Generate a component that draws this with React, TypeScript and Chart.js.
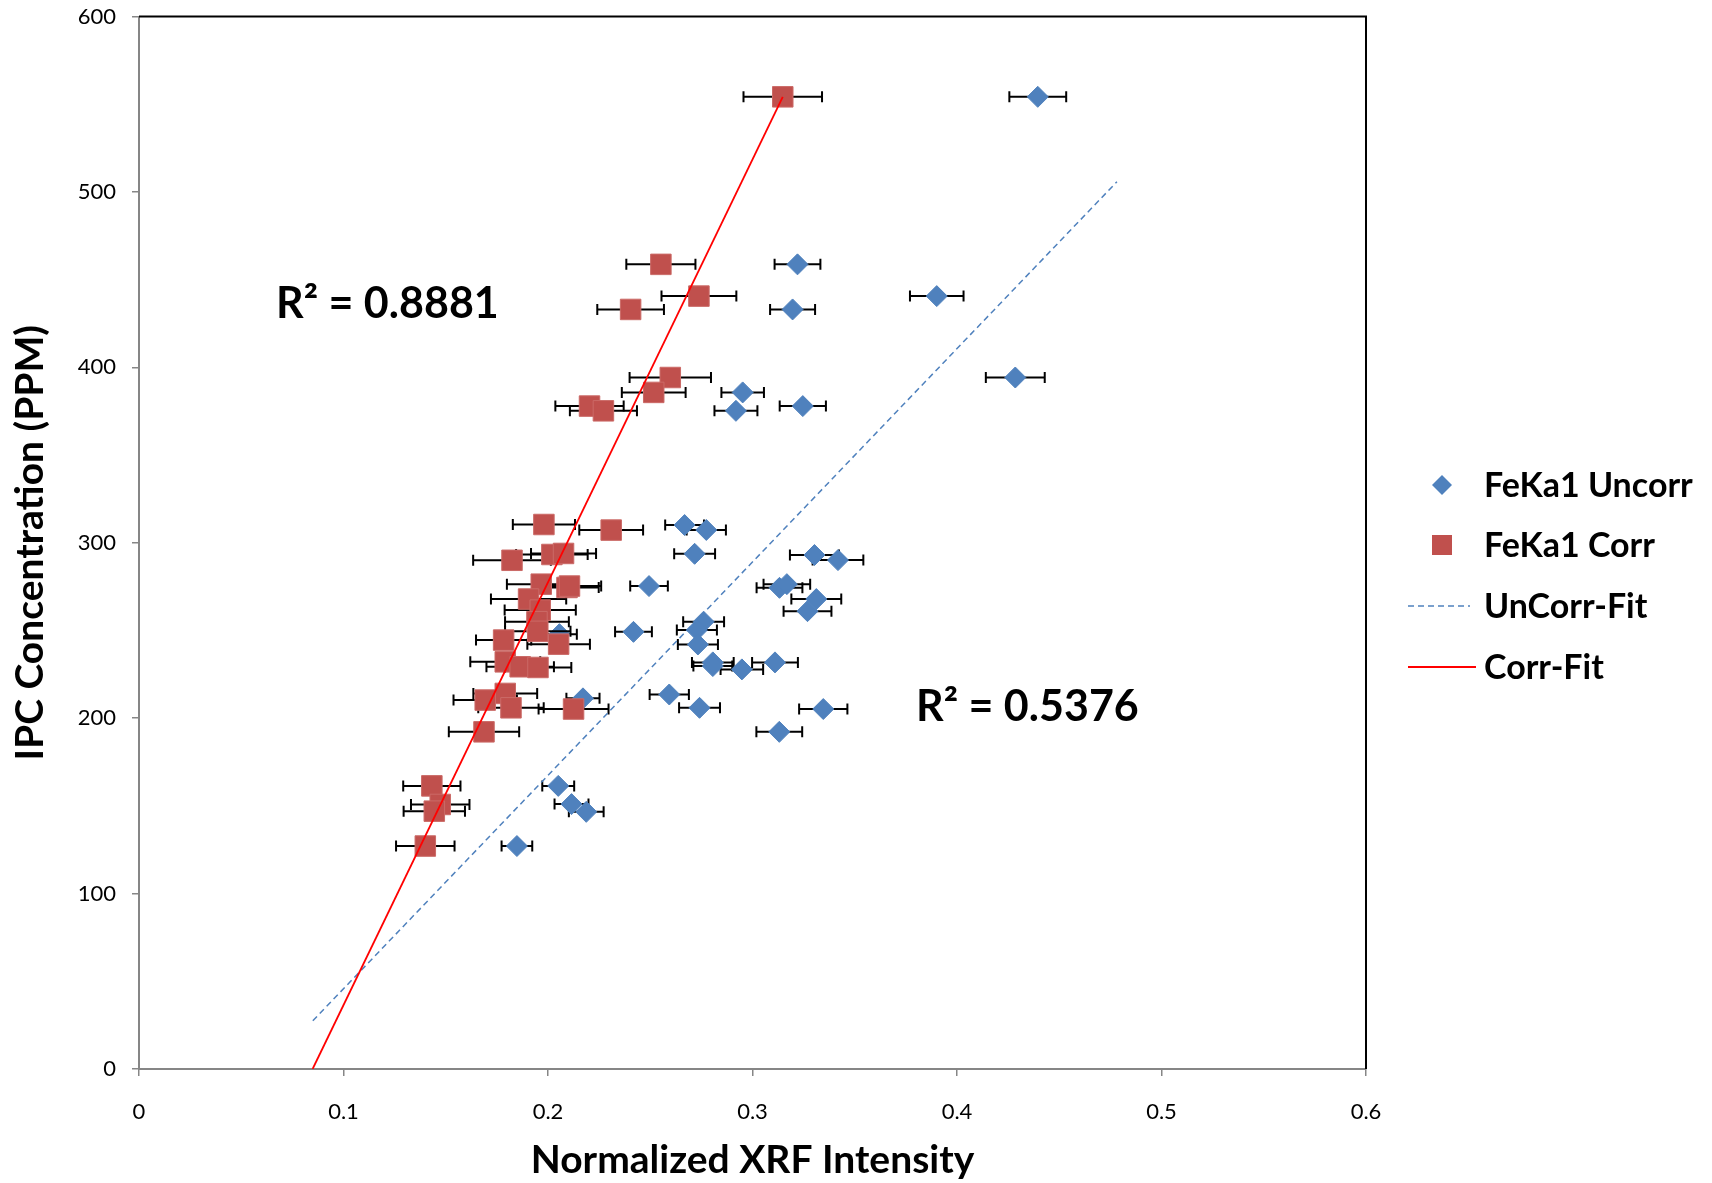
import React, { useEffect, useRef } from "react";
import { Chart, registerables } from "chart.js";

Chart.register(...registerables);

// ---- Data ----
const uncorrX = [0.4395, 0.322, 0.3901, 0.3196, 0.4285, 0.2952, 0.3246, 0.2919, 0.2668, 0.2774, 0.2717, 0.3303, 0.3418, 0.2494, 0.3132, 0.3168, 0.3312, 0.3269, 0.2761, 0.2728, 0.2418, 0.2056, 0.2733, 0.2806, 0.2806, 0.2948, 0.311, 0.2593, 0.2171, 0.2741, 0.3346, 0.3131, 0.205, 0.2115, 0.2187, 0.1848];
const uncorrY = [554.2, 458.7, 440.6, 433.0, 394.2, 385.7, 377.9, 375.2, 310.1, 307.3, 293.7, 293.0, 290.1, 275.3, 274.3, 276.4, 267.9, 261.0, 255.0, 250.2, 249.2, 247.9, 242.0, 231.8, 229.7, 227.8, 231.8, 213.5, 211.3, 205.9, 205.2, 192.2, 161.4, 151.0, 146.6, 127.1];
const uncorrErr = [0.0139, 0.0112, 0.0131, 0.011, 0.0144, 0.0104, 0.0113, 0.0105, 0.0095, 0.0096, 0.01, 0.012, 0.0124, 0.0092, 0.0112, 0.0114, 0.0122, 0.0117, 0.01, 0.0098, 0.009, 0.0085, 0.0098, 0.0102, 0.0095, 0.0104, 0.0112, 0.0096, 0.0081, 0.01, 0.0118, 0.0112, 0.0078, 0.0083, 0.0085, 0.0075];

const corrX = [0.3148, 0.2552, 0.2738, 0.2404, 0.2598, 0.2517, 0.2203, 0.2271, 0.198, 0.2309, 0.1824, 0.2019, 0.2076, 0.1967, 0.2093, 0.2105, 0.1905, 0.1962, 0.1946, 0.195, 0.1783, 0.2052, 0.1791, 0.1864, 0.1951, 0.1791, 0.1693, 0.1819, 0.2125, 0.1687, 0.1432, 0.1473, 0.1444, 0.14];
const corrY = [554.2, 458.7, 440.6, 433.0, 394.2, 385.7, 377.9, 375.2, 310.4, 307.2, 290.0, 293.3, 293.9, 276.4, 274.5, 275.3, 267.9, 261.6, 255.0, 249.5, 244.5, 242.2, 232.1, 229.3, 228.9, 214.1, 210.3, 205.9, 205.2, 192.2, 161.4, 150.8, 147.0, 127.1];
const corrErr = [0.0192, 0.0169, 0.0183, 0.0163, 0.0199, 0.0156, 0.0167, 0.0164, 0.0152, 0.0156, 0.019, 0.0175, 0.0159, 0.0168, 0.0155, 0.0155, 0.0184, 0.0174, 0.0156, 0.016, 0.0135, 0.0153, 0.0171, 0.0165, 0.0163, 0.0156, 0.0155, 0.016, 0.0171, 0.0172, 0.014, 0.0143, 0.015, 0.0143];

const uncorrFitX = [0.085, 0.4782];
const uncorrFitY = [27.5, 505.8];
const corrFitX = [0.0849, 0.3148];
const corrFitY = [0, 554.2];

const seriesLabels = ["FeKa1 Uncorr", "FeKa1 Corr", "UnCorr-Fit", "Corr-Fit"];
const r2Labels = ["R\u00B2 = 0.8881", "R\u00B2 = 0.5376"];

const X_MIN = 0, X_MAX = 0.6, X_STEP = 0.1;
const Y_MIN = 0, Y_MAX = 600, Y_STEP = 100;
const xTitle = "Normalized XRF Intensity";
const yTitle = "IPC Concentration (PPM)";

const BLUE = "#4F81BD";
const RED = "#C0504D";
const FONT = "Lato, 'Open Sans', sans-serif";

const toPts = (xs: number[], ys: number[]) => xs.map((x, i) => ({ x, y: ys[i] }));

const errorBarPlugin = {
  id: "errorBars",
  beforeDatasetDraw(chart: any, args: any) {
    const ds = chart.data.datasets[args.index];
    if (!ds.xErr) return;
    const { ctx } = chart;
    const xs = chart.scales.x;
    const ys = chart.scales.y;
    ctx.save();
    ctx.strokeStyle = "#000";
    ctx.lineWidth = 2;
    const cap = 5.5;
    ds.data.forEach((p: any, i: number) => {
      const e = ds.xErr[i];
      const x1 = xs.getPixelForValue(p.x - e);
      const x2 = xs.getPixelForValue(p.x + e);
      const py = ys.getPixelForValue(p.y);
      ctx.beginPath();
      ctx.moveTo(x1, py);
      ctx.lineTo(x2, py);
      ctx.moveTo(x1, py - cap);
      ctx.lineTo(x1, py + cap);
      ctx.moveTo(x2, py - cap);
      ctx.lineTo(x2, py + cap);
      ctx.stroke();
    });
    ctx.restore();
  },
};

const framePlugin = {
  id: "frame",
  beforeDatasetsDraw(chart: any) {
    const { ctx, chartArea: a } = chart;
    ctx.save();
    ctx.strokeStyle = "#000";
    ctx.lineWidth = 2;
    ctx.beginPath();
    ctx.moveTo(a.left, a.top);
    ctx.lineTo(a.right, a.top);
    ctx.lineTo(a.right, a.bottom);
    ctx.stroke();
    ctx.restore();
  },
};

const annotationPlugin = {
  id: "annot",
  afterDraw(chart: any) {
    const { ctx } = chart;
    ctx.save();
    // R² labels
    ctx.fillStyle = "#000";
    ctx.font = `bold 43px ${FONT}`;
    ctx.textAlign = "left";
    ctx.textBaseline = "alphabetic";
    ctx.fillText(r2Labels[0], 276, 318);
    ctx.fillText(r2Labels[1], 916, 721);

    // legend
    const mx = 1442;
    const rows = [485, 545, 606, 667];
    ctx.fillStyle = BLUE;
    ctx.beginPath();
    ctx.moveTo(mx - 10, rows[0]);
    ctx.lineTo(mx, rows[0] - 10);
    ctx.lineTo(mx + 10, rows[0]);
    ctx.lineTo(mx, rows[0] + 10);
    ctx.closePath();
    ctx.fill();
    ctx.fillStyle = RED;
    ctx.fillRect(mx - 10, rows[1] - 10, 20, 20);
    ctx.strokeStyle = BLUE;
    ctx.lineWidth = 1.5;
    ctx.setLineDash([6, 4]);
    ctx.beginPath();
    ctx.moveTo(1408, rows[2]);
    ctx.lineTo(1470, rows[2]);
    ctx.stroke();
    ctx.setLineDash([]);
    ctx.strokeStyle = "#FF0000";
    ctx.lineWidth = 1.8;
    ctx.beginPath();
    ctx.moveTo(1408, rows[3]);
    ctx.lineTo(1476, rows[3]);
    ctx.stroke();

    ctx.fillStyle = "#000";
    ctx.font = `bold 34px ${FONT}`;
    ctx.textBaseline = "middle";
    seriesLabels.forEach((t, i) => ctx.fillText(t, 1484, rows[i] + 1));
    ctx.restore();
  },
};

export default function App() {
  const ref = useRef<HTMLCanvasElement | null>(null);

  useEffect(() => {
    if (!ref.current) return;
    const chart = new Chart(ref.current, {
      type: "scatter",
      data: {
        datasets: [
          {
            label: seriesLabels[0],
            data: toPts(uncorrX, uncorrY),
            xErr: uncorrErr,
            pointStyle: "rectRot",
            pointRadius: 10.5,
            backgroundColor: BLUE,
            borderColor: BLUE,
            borderWidth: 1,
            order: 4,
          } as any,
          {
            label: seriesLabels[1],
            data: toPts(corrX, corrY),
            xErr: corrErr,
            pointStyle: "rect",
            pointRadius: 14.5,
            backgroundColor: RED,
            borderColor: "#CB6A67",
            borderWidth: 1,
            order: 3,
          } as any,
          {
            label: seriesLabels[2],
            data: toPts(uncorrFitX, uncorrFitY),
            showLine: true,
            pointRadius: 0,
            borderColor: BLUE,
            borderWidth: 1.5,
            borderDash: [6, 4],
            order: 2,
          },
          {
            label: seriesLabels[3],
            data: toPts(corrFitX, corrFitY),
            showLine: true,
            pointRadius: 0,
            borderColor: "#FF0000",
            borderWidth: 1.8,
            order: 1,
          },
        ],
      },
      options: {
        animation: false,
        responsive: false,
        layout: { padding: { top: 16.5, right: 346, left: 0, bottom: 0 } },
        plugins: { legend: { display: false }, tooltip: { enabled: false } },
        scales: {
          x: {
            type: "linear",
            min: X_MIN,
            max: X_MAX,
            afterFit: (s: any) => { s.height = 114; },
            ticks: {
              stepSize: X_STEP,
              padding: 23,
              color: "#000",
              font: { family: FONT, size: 22 },
              callback: (v: any) => String(Math.round(Number(v) * 10) / 10),
            },
            grid: { drawOnChartArea: false, drawTicks: true, tickLength: 7, color: "#868686", lineWidth: 1.5 },
            border: { display: true, color: "#868686", width: 2 },
            title: {
              display: true,
              text: xTitle,
              color: "#000",
              font: { family: FONT, size: 39, weight: "bold", lineHeight: 1 },
              padding: { top: 0, bottom: 3 },
            },
          },
          y: {
            type: "linear",
            min: Y_MIN,
            max: Y_MAX,
            afterFit: (s: any) => { s.width = 139; s.paddingTop = 0; s.paddingBottom = 0; },
            ticks: {
              stepSize: Y_STEP,
              padding: 16,
              color: "#000",
              font: { family: FONT, size: 22 },
            },
            grid: { drawOnChartArea: false, drawTicks: true, tickLength: 7, color: "#868686", lineWidth: 1.5 },
            border: { display: true, color: "#868686", width: 2 },
            title: {
              display: true,
              text: yTitle,
              color: "#000",
              font: { family: FONT, size: 39, weight: "bold", lineHeight: 1 },
              padding: { top: 11, bottom: 0 },
            },
          },
        },
      },
      plugins: [errorBarPlugin, framePlugin, annotationPlugin],
    } as any);
    return () => chart.destroy();
  }, []);

  return (
    <div style={{ position: "fixed", left: 0, top: 0, width: 1712, height: 1183, background: "#fff" }}>
      <canvas ref={ref} width={1712} height={1183} style={{ display: "block" }} />
    </div>
  );
}
